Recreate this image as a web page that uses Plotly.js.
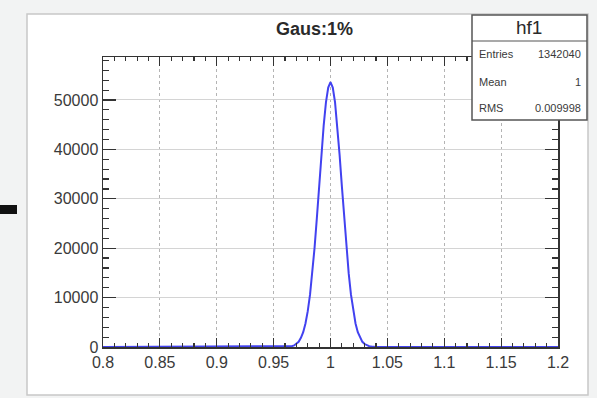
<!DOCTYPE html>
<html><head><meta charset="utf-8">
<script src="https://cdn.plot.ly/plotly-3.0.1.min.js"></script>
<style>html,body{margin:0;padding:0;background:#f2f3f3}#chart{width:597px;height:398px}</style>
</head><body><div id="chart"></div>
<script>
// Histogram "hf1" — bin centres (x) and counts
const binX = [0.8, 0.96, 0.962, 0.964, 0.966, 0.968, 0.970, 0.972, 0.974, 0.976, 0.978, 0.980,
  0.982, 0.984, 0.986, 0.988, 0.990, 0.992, 0.994, 0.996, 0.998, 1.000,
  1.002, 1.004, 1.006, 1.008, 1.010, 1.012, 1.014, 1.016, 1.018, 1.020,
  1.022, 1.024, 1.026, 1.028, 1.030, 1.032, 1.034, 1.036, 1.038, 1.040, 1.2];
const binCounts = [0, 20, 40, 80, 170, 320, 600, 1050, 1850, 3000, 4750, 7250,
  10600, 14900, 20100, 26100, 32500, 38900, 44800, 49500, 52500, 53600,
  52500, 49500, 44800, 38900, 32500, 26100, 20100, 14900, 10600, 7250,
  4750, 3000, 1850, 1050, 600, 320, 170, 80, 40, 20, 0];
const xTicks = [0.8, 0.85, 0.9, 0.95, 1, 1.05, 1.1, 1.15, 1.2];
const xTickText = ["0.8", "0.85", "0.9", "0.95", "1", "1.05", "1.1", "1.15", "1.2"];
const yTicks = [0, 10000, 20000, 30000, 40000, 50000];
const yTickText = ["0", "10000", "20000", "30000", "40000", "50000"];
const titleText = "Gaus:1%";
const statsName = "hf1";
const statsLabels = ["Entries", "Mean", "RMS"];
const statsValues = ["1342040", "1", "0.009998"];

// geometry helpers (pixel -> paper for the 455x290 plot area at l=103,t=57)
const L = 103, T = 57, W = 455, H = 290;
const px = v => (v - L) / W;
const py = v => (T + H - v) / H;

const labelFont = {family: "Liberation Sans, Arial, sans-serif", size: 16, color: "#3a3a3a"};

const shapes = [
  {type: "rect", xref: "paper", yref: "paper", x0: px(27), x1: px(588), y0: py(395), y1: py(14),
   fillcolor: "#ffffff", line: {color: "#c8c8c8", width: 1.5}, layer: "below"},
  {type: "rect", xref: "paper", yref: "paper", x0: px(0), x1: px(17), y0: py(214), y1: py(205),
   fillcolor: "#111111", line: {width: 0}, layer: "below"},
  {type: "rect", xref: "paper", yref: "paper", x0: px(472), x1: px(587), y0: py(120), y1: py(15),
   fillcolor: "#ffffff", line: {color: "#555555", width: 1.5}, layer: "above"},
  {type: "line", xref: "paper", yref: "paper", x0: px(472), x1: px(587), y0: py(41), y1: py(41),
   line: {color: "#555555", width: 1.2}, layer: "above"}
];

const fam = "Liberation Sans, Arial, sans-serif";
const statsY = [54, 82, 108];
const annotations = [
  {text: "<b>" + titleText + "</b>", xref: "paper", yref: "paper", x: px(314), y: py(29),
   xanchor: "center", yanchor: "middle", showarrow: false, font: {family: fam, size: 18, color: "#2a2a2a"}},
  {text: statsName, xref: "paper", yref: "paper", x: px(529), y: py(28),
   xanchor: "center", yanchor: "middle", showarrow: false, font: {family: fam, size: 19, color: "#2a2a2a"}}
];
statsLabels.forEach((lab, i) => {
  annotations.push({text: lab, xref: "paper", yref: "paper", x: px(477), y: py(statsY[i]),
    xanchor: "left", yanchor: "middle", showarrow: false, font: {family: fam, size: 11, color: "#3a3a3a"}});
  annotations.push({text: statsValues[i], xref: "paper", yref: "paper", x: px(583), y: py(statsY[i]),
    xanchor: "right", yanchor: "middle", showarrow: false, font: {family: fam, size: 11, color: "#3a3a3a"}});
});

const trace = {x: binX, y: binCounts, type: "scatter", mode: "lines",
  line: {color: "#4242f0", width: 2}, hoverinfo: "skip"};

const layout = {
  width: 597, height: 398,
  margin: {l: L, r: 597 - L - W, t: T, b: 398 - T - H},
  paper_bgcolor: "#f2f3f3", plot_bgcolor: "rgba(0,0,0,0)",
  showlegend: false,
  xaxis: {range: [0.8, 1.2], tickvals: xTicks, ticktext: xTickText, ticks: "inside", ticklen: 9,
    tickcolor: "#333", tickwidth: 1.2, showline: true, linecolor: "#333", linewidth: 1.5, mirror: "ticks",
    showgrid: true, gridcolor: "#b4b4b4", griddash: "dot", gridwidth: 1, zeroline: false,
    minor: {dtick: 0.01, ticks: "inside", ticklen: 4, tickcolor: "#333", showgrid: false},
    tickfont: labelFont, fixedrange: true},
  yaxis: {range: [0, 58700], tickvals: yTicks, ticktext: yTickText, ticks: "inside", ticklen: 13,
    tickcolor: "#333", tickwidth: 1.2, showline: true, linecolor: "#333", linewidth: 1.5, mirror: "ticks",
    showgrid: true, gridcolor: "#d4d4d4", gridwidth: 1, zeroline: false,
    minor: {dtick: 2000, ticks: "inside", ticklen: 6, tickcolor: "#333", showgrid: false},
    tickfont: labelFont, ticklabelstandoff: 0, fixedrange: true},
  shapes: shapes,
  annotations: annotations
};
Plotly.newPlot("chart", [trace], layout, {staticPlot: true, displayModeBar: false});
</script></body></html>
